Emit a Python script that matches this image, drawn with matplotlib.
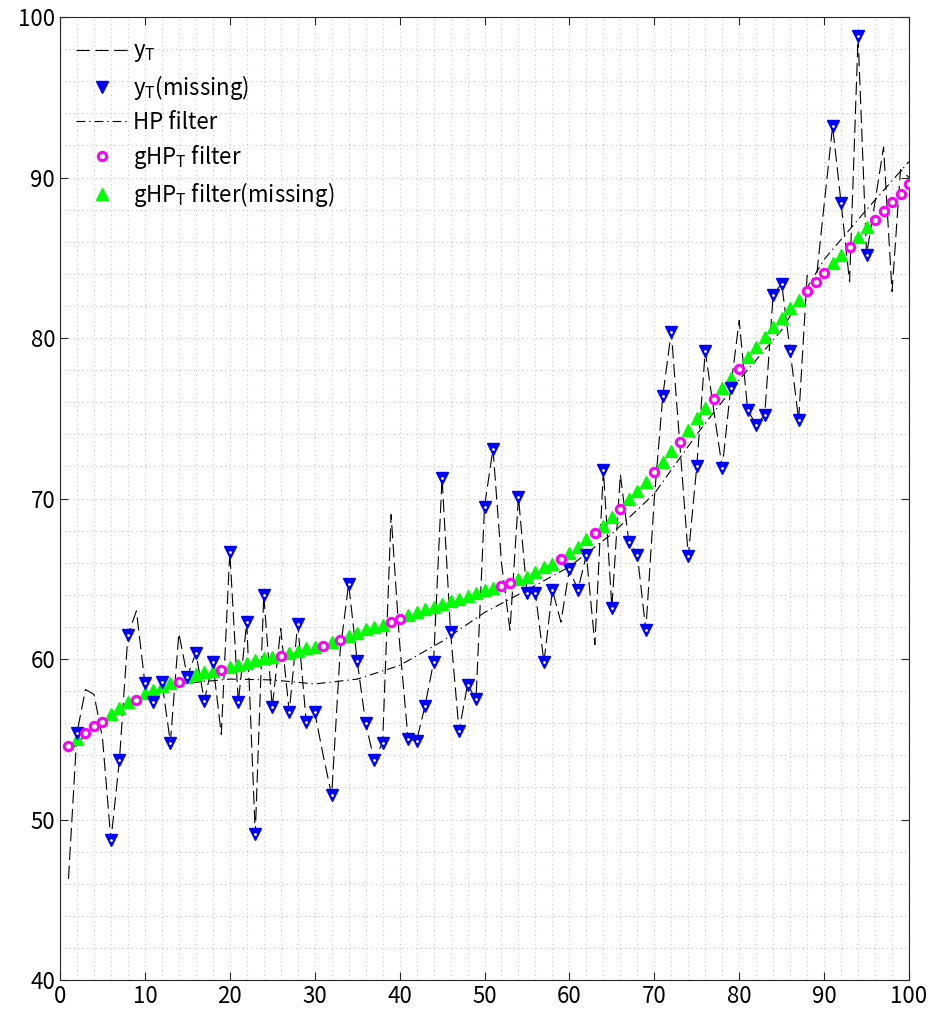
import numpy as np
import matplotlib
matplotlib.use("Agg")
import matplotlib.pyplot as plt

plt.rcParams["font.family"] = ["Noto Sans CJK JP", "DejaVu Sans"]
plt.rcParams["mathtext.fontset"] = "custom"
plt.rcParams["mathtext.rm"] = "Noto Sans CJK JP"

# time index
t = np.arange(1, 101)

# observed series
y_t = [
    46.3, 55.4, 58.1, 57.8, 55.1, 48.7, 53.7, 61.5, 63.0, 58.5,
    57.3, 58.6, 54.8, 61.6, 58.9, 60.4, 57.4, 59.8, 55.3, 66.7,
    57.3, 62.3, 49.1, 64.0, 57.0, 61.9, 56.7, 62.2, 56.1, 56.7,
    54.0, 51.5, 60.5, 64.7, 59.9, 56.0, 53.7, 54.8, 69.0, 61.0,
    55.0, 54.9, 57.1, 59.8, 71.3, 61.7, 55.5, 58.4, 57.5, 69.5,
    73.1, 66.0, 61.8, 70.1, 64.1, 64.1, 59.8, 64.3, 62.3, 65.6,
    64.3, 66.5, 60.9, 71.8, 63.2, 71.5, 67.3, 66.5, 61.8, 70.0,
    76.4, 80.4, 73.4, 66.4, 72.0, 79.2, 75.5, 71.9, 76.9, 81.1,
    75.5, 74.6, 75.2, 82.7, 83.4, 79.2, 74.9, 83.9, 83.3, 88.3,
    93.2, 88.4, 83.5, 98.8, 85.2, 88.5, 91.9, 82.9, 90.5, 90.0,
]

# positions treated as missing
missing_idx = [
    2, 6, 7, 8, 10, 11, 12, 13, 15, 16, 17, 18, 20, 21, 22, 23, 24, 25,
    27, 28, 29, 30, 32, 34, 35, 36, 37, 38, 41, 42, 43, 44, 45, 46, 47,
    48, 49, 50, 51, 54, 55, 56, 57, 58, 60, 61, 62, 64, 65, 67, 68, 69,
    71, 72, 74, 75, 76, 78, 79, 81, 82, 83, 84, 85, 86, 87, 91, 92, 94, 95,
]

# generalized HP trend
ghp_t = [
    54.6, 55.0, 55.4, 55.8, 56.1, 56.6, 56.95, 57.3, 57.45, 57.9,
    58.07, 58.3, 58.5, 58.6, 58.9, 59.07, 59.2, 59.25, 59.31, 59.5,
    59.6, 59.77, 59.94, 60.04, 60.15, 60.19, 60.4, 60.5, 60.67, 60.75,
    60.83, 61.08, 61.18, 61.43, 61.64, 61.85, 62.0, 62.1, 62.3, 62.49,
    62.74, 62.95, 63.1, 63.25, 63.43, 63.6, 63.76, 63.9, 64.09, 64.3,
    64.4, 64.55, 64.76, 64.96, 65.1, 65.44, 65.71, 65.95, 66.23, 66.6,
    67.0, 67.45, 67.83, 68.29, 68.87, 69.32, 69.95, 70.49, 71.05, 71.63,
    72.3, 72.96, 73.54, 74.27, 75.0, 75.62, 76.18, 76.87, 77.49, 78.1,
    78.8, 79.42, 80.04, 80.67, 81.27, 81.87, 82.4, 82.93, 83.5, 84.07,
    84.65, 85.2, 85.7, 86.31, 86.89, 87.37, 87.92, 88.46, 89.0, 89.57,
]

# standard HP trend (sampled every 5 periods)
hp_t = [1, 5, 10, 15, 20, 25, 30, 35, 40, 45, 50,
        55, 60, 65, 70, 75, 80, 85, 90, 95, 100]
hp_vals = [54.2, 56.3, 57.7, 58.5, 58.75, 58.7, 58.45, 58.75, 59.6, 61.1, 62.9,
           64.3, 65.75, 67.8, 70.3, 74.0, 77.4, 80.5, 84.9, 88.0, 91.0]

y_t = np.array(y_t)
ghp_t = np.array(ghp_t)
miss = np.isin(t, missing_idx)

fig = plt.figure(figsize=(9.33, 10.23), dpi=100)
ax = fig.add_axes([0.0643, 0.042, 0.9100, 0.9413])

lw = 0.8
ax.plot(t, y_t, color="black", lw=lw, dashes=(12, 5), label=r"y$_\mathrm{T}$", zorder=3)
ax.plot(t[miss], y_t[miss], "v", color="#0000ff", ms=9, ls="none",
        label=r"y$_\mathrm{T}$(missing)", zorder=5)
ax.plot(t[miss], y_t[miss], ".", color="white", ms=2, ls="none", zorder=6)
ax.plot(hp_t, hp_vals, color="black", lw=lw, dashes=(8, 3.5, 1.2, 3.5),
        label="HP filter", zorder=3)
ax.plot(t[~miss], ghp_t[~miss], "o", color="#ff00ff", mfc="white", mew=2.2, ms=6,
        ls="none", label=r"gHP$_\mathrm{T}$ filter", zorder=5)
ax.plot(t[miss], ghp_t[miss], "^", color="#00ff00", ms=9, ls="none",
        label=r"gHP$_\mathrm{T}$ filter(missing)", zorder=4)

ax.set_xlim(0, 100)
ax.set_ylim(40, 100)
ax.set_xticks(np.arange(0, 101, 10))
ax.set_yticks(np.arange(40, 101, 10))
ax.set_xticks(np.arange(0, 101, 2), minor=True)
ax.set_yticks(np.arange(40, 101, 2), minor=True)
ax.grid(which="both", color="#c8c8c8", linestyle=(0, (1, 3)), lw=0.8)
ax.set_axisbelow(True)

ax.tick_params(which="major", direction="in", length=6, width=0.8, top=True,
               right=True, labelsize=16, colors="#262626", labelcolor="black")
ax.tick_params(which="minor", length=0)
for s in ax.spines.values():
    s.set_color("#262626")
    s.set_linewidth(0.8)

ax.legend(loc="upper left", frameon=False, fontsize=16, handlelength=2.35,
          handletextpad=0.22, labelspacing=0.4, borderaxespad=0.3,
          bbox_to_anchor=(0.0, 0.993))

fig.savefig("out.png", dpi=100)
